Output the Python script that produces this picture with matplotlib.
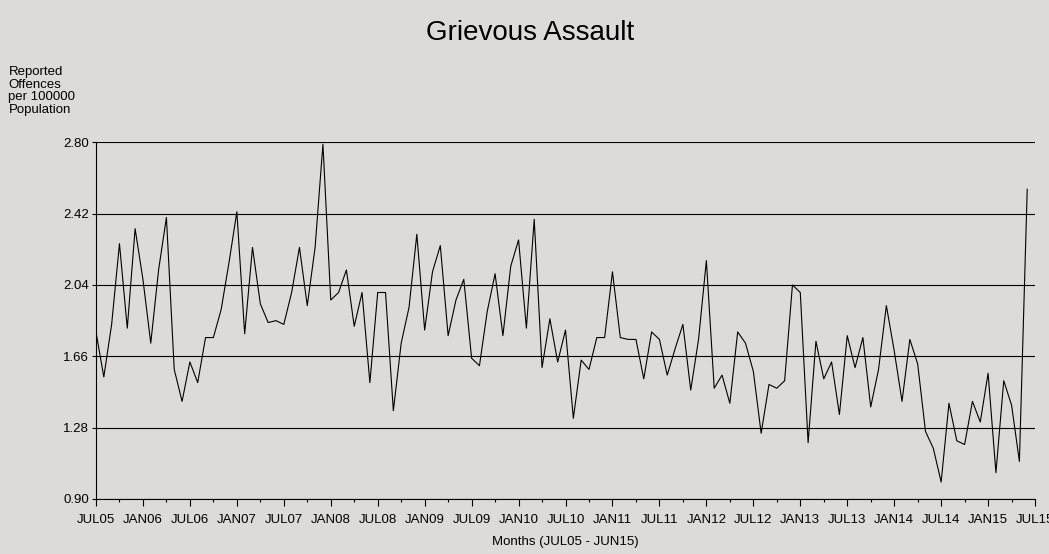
import numpy as np
import matplotlib
matplotlib.use("Agg")
import matplotlib.pyplot as plt
from matplotlib.ticker import MultipleLocator

# monthly rate, JUL05 .. JUN15 (120 months)
rates = [
    1.79, 1.55, 1.83, 2.26, 1.81, 2.34, 2.07, 1.73, 2.12, 2.40,
    1.59, 1.42, 1.63, 1.52, 1.76, 1.76, 1.91, 2.16, 2.43, 1.78,
    2.24, 1.94, 1.84, 1.85, 1.83, 2.00, 2.24, 1.93, 2.24, 2.79,
    1.96, 2.00, 2.12, 1.82, 2.00, 1.52, 2.00, 2.00, 1.37, 1.73,
    1.92, 2.31, 1.80, 2.11, 2.25, 1.77, 1.96, 2.07, 1.65, 1.61,
    1.90, 2.10, 1.77, 2.14, 2.28, 1.81, 2.39, 1.60, 1.86, 1.63,
    1.80, 1.33, 1.64, 1.59, 1.76, 1.76, 2.11, 1.76, 1.75, 1.75,
    1.54, 1.79, 1.75, 1.56, 1.70, 1.83, 1.48, 1.75, 2.17, 1.49,
    1.56, 1.41, 1.79, 1.73, 1.58, 1.25, 1.51, 1.49, 1.53, 2.04,
    2.00, 1.20, 1.74, 1.54, 1.63, 1.35, 1.77, 1.60, 1.76, 1.39,
    1.59, 1.93, 1.69, 1.42, 1.75, 1.62, 1.26, 1.17, 0.99, 1.41,
    1.21, 1.19, 1.42, 1.31, 1.57, 1.04, 1.53, 1.40, 1.10, 2.55,
]
tick_labels = [
    "JUL05", "JAN06", "JUL06", "JAN07", "JUL07", "JAN08", "JUL08",
    "JAN09", "JUL09", "JAN10", "JUL10", "JAN11", "JUL11", "JAN12",
    "JUL12", "JAN13", "JUL13", "JAN14", "JUL14", "JAN15", "JUL15",
]
y_ticks = [0.90, 1.28, 1.66, 2.04, 2.42, 2.80]

bg = "#dcdbd9"
narrow = ["Liberation Sans Narrow", "Liberation Sans", "DejaVu Sans"]

fig = plt.figure(figsize=(10.49, 5.54), dpi=100, facecolor=bg)
ax = fig.add_axes([0.0915, 0.0993, 0.8952, 0.6438], facecolor=bg)

x = np.arange(len(rates))
ax.plot(x, rates, color="black", lw=0.8)

ax.set_xlim(0, 120)
ax.set_ylim(0.90, 2.80)
ax.set_yticks(y_ticks)
ax.set_yticklabels([f"{v:.2f}" for v in y_ticks], family=narrow, fontsize=9.5)
ax.set_xticks(np.arange(0, 121, 6))
ax.set_xticklabels(tick_labels, family=narrow, fontsize=9.5)
ax.xaxis.set_minor_locator(MultipleLocator(3))
ax.tick_params(axis="x", which="major", length=5, width=0.8, pad=6)
ax.tick_params(axis="x", which="minor", length=2.5, width=0.8)
ax.tick_params(axis="y", length=3, width=0.8, pad=2)

ax.grid(axis="y", color="black", lw=0.8)
ax.set_axisbelow(True)
for s in ["top", "right"]:
    ax.spines[s].set_visible(False)
ax.spines["left"].set_linewidth(0.8)
ax.spines["bottom"].set_linewidth(0.8)

fig.text(0.505, 0.94, "Grievous Assault", ha="center", va="center",
         family=narrow, fontsize=20)
fig.text(0.008, 0.88, "Reported\nOffences\nper 100000\nPopulation",
         ha="left", va="top", family=narrow, fontsize=9.5, linespacing=1.05)
ax.set_xlabel("Months (JUL05 - JUN15)", family=narrow, fontsize=9.5, labelpad=7)

fig.savefig("out.png", dpi=100, facecolor=bg)
